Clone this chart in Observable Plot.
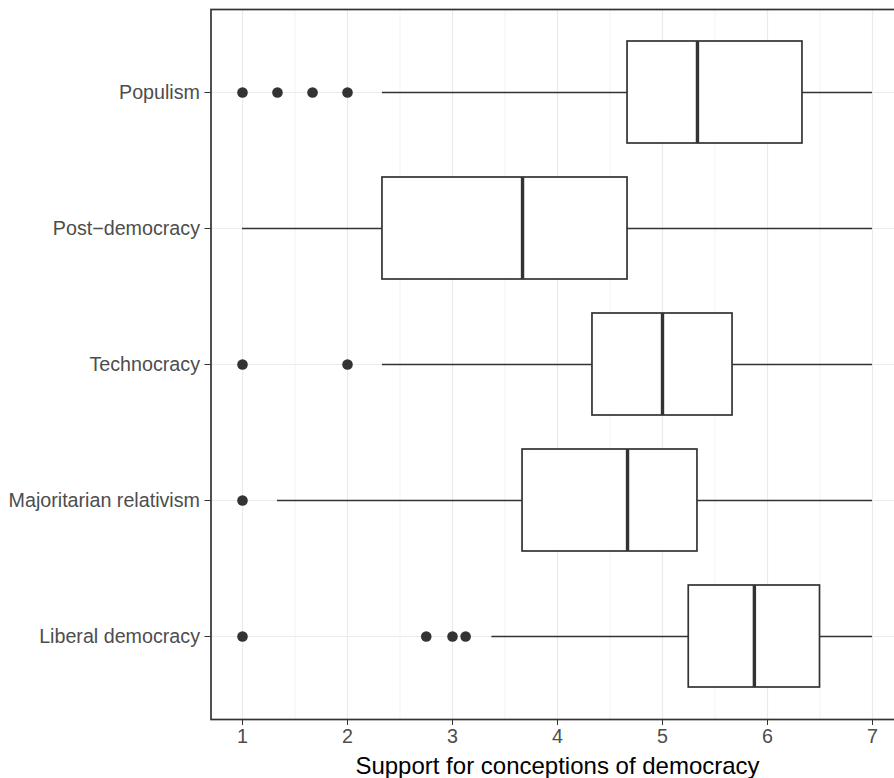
<!DOCTYPE html>
<html>
<head>
<meta charset="utf-8">
<script src="https://cdn.jsdelivr.net/npm/d3@7"></script>
<script src="https://cdn.jsdelivr.net/npm/@observablehq/plot@0.6"></script>
<style>
  html, body { margin: 0; padding: 0; background: #fff; overflow: hidden; }
  #chart svg { max-width: none; display: block; }
  #chart svg [aria-label$="tick label"] { fill: #4d4d4d; }
</style>
</head>
<body>
<div id="chart"></div>
<script>
const categories = ["Populism", "Post\u2212democracy", "Technocracy", "Majoritarian relativism", "Liberal democracy"];
const whiskerLow  = [2.333, 1.0,   2.333, 1.333, 3.375];
const q1          = [4.667, 2.333, 4.333, 3.667, 5.25];
const median      = [5.333, 3.667, 5.0,   4.667, 5.875];
const q3          = [6.333, 4.667, 5.667, 5.333, 6.5];
const whiskerHigh = [7.0,   7.0,   7.0,   7.0,   7.0];
const outliers = [
  [1, 1.333, 1.667, 2],
  [],
  [1, 2],
  [1],
  [1, 2.75, 3, 3.125]
];
const majorTicks = [1, 2, 3, 4, 5, 6, 7];
const minorTicks = [1.5, 2.5, 3.5, 4.5, 5.5, 6.5];
const xTitle = "Support for conceptions of democracy";

const boxes = categories.map((c, i) => ({
  cat: c, lo: whiskerLow[i], q1: q1[i], med: median[i], q3: q3[i], hi: whiskerHigh[i]
}));
const pts = categories.flatMap((c, i) => outliers[i].map(v => ({cat: c, value: v})));

const ink = "#333333";
const chart = Plot.plot({
  width: 894,
  height: 778,
  marginLeft: 210.5,
  marginRight: -9.5,
  marginTop: 9,
  marginBottom: 59,
  style: {fontFamily: "'Liberation Sans', Arial, sans-serif", background: "#fff"},
  x: {domain: [0.7, 7.3]},
  y: {type: "band", domain: categories, paddingInner: 0.25, paddingOuter: 0.225, align: 0.5},
  marks: [
    Plot.ruleX(minorTicks, {stroke: "#ebebeb", strokeWidth: 0.6}),
    Plot.ruleX(majorTicks, {stroke: "#ebebeb", strokeWidth: 1.2}),
    Plot.gridY({stroke: "#ebebeb", strokeOpacity: 1, strokeWidth: 1.2}),
    Plot.ruleY(boxes, {y: "cat", x1: "lo", x2: "hi", stroke: ink, strokeWidth: 1.7}),
    Plot.barX(boxes, {y: "cat", x1: "q1", x2: "q3", fill: "#fff", stroke: ink, strokeWidth: 1.7}),
    Plot.tickX(boxes, {y: "cat", x: "med", stroke: ink, strokeWidth: 3.4}),
    Plot.dot(pts, {y: "cat", x: "value", r: 5.3, fill: ink, stroke: "none"}),
    Plot.frame({stroke: ink, strokeWidth: 1.7}),
    Plot.axisX({ticks: majorTicks, tickFormat: d3.format("d"), tickSize: 6, tickPadding: 3, fontSize: 19.7, stroke: ink, label: null}),
    Plot.axisY({tickSize: 6, tickPadding: 5, fontSize: 19.7, stroke: ink, label: null}),
    Plot.text([xTitle], {x: 4, frameAnchor: "bottom", dy: 46.4, fontSize: 24, fill: "#000", textAnchor: "middle", lineAnchor: "middle"})
  ]
});
document.getElementById("chart").appendChild(chart);
</script>
</body>
</html>
